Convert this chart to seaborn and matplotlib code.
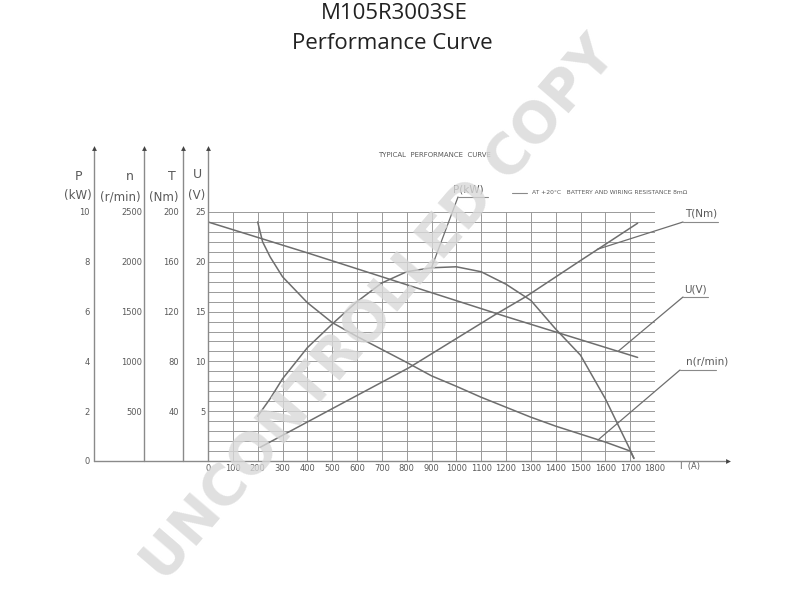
import matplotlib
matplotlib.use("Agg")
import matplotlib.pyplot as plt
import seaborn as sns
from matplotlib.ticker import MultipleLocator, FixedLocator

# ---------------- data ----------------
current_u = [0, 400, 800, 1200, 1730]
voltage_v = [24.0, 20.9, 17.7, 14.5, 10.4]

current_n = [200, 220, 250, 300, 400, 500, 600, 700, 800, 900, 1000, 1100,
             1200, 1300, 1400, 1500, 1600, 1700, 1715]
speed_rpm = [2400, 2200, 2050, 1850, 1590, 1390, 1250, 1120, 990, 855, 750, 640,
             540, 440, 350, 270, 190, 100, 30]

current_p = [200, 250, 300, 400, 500, 600, 700, 800, 900, 1000, 1100, 1200,
             1300, 1400, 1500, 1600, 1700, 1715]
power_kw = [1.8, 2.5, 3.3, 4.55, 5.5, 6.4, 7.15, 7.6, 7.76, 7.8, 7.6, 7.1,
            6.45, 5.3, 4.25, 2.5, 0.45, 0.1]

current_t = [210, 500, 810, 1160, 1280, 1500, 1600, 1730]
torque_nm = [11, 42, 75, 118, 132, 161, 174, 191]

current_ticks = list(range(0, 1900, 100))
p_ticks = [0, 2, 4, 6, 8, 10]
n_ticks = [500, 1000, 1500, 2000, 2500]
t_ticks = [40, 80, 120, 160, 200]
u_ticks = [5, 10, 15, 20, 25]

# ---------------- style ----------------
sns.set_theme(style="white")
plt.rcParams["font.family"] = ["DejaVu Sans"]

W, H = 800, 600
TXT = "#5a5a5a"
CURVE = "#6e6e6e"
GRIDC = "#9a9a9a"
AXC = "#8a8a8a"

fig = plt.figure(figsize=(8, 6), dpi=100)
fig.patch.set_facecolor("white")

L, R, T, B = 208, 655, 212, 461
ax = fig.add_axes([L / W, 1 - B / H, (R - L) / W, (B - T) / H])
ax.set_facecolor("none")

# main (U / current) axis
sns.lineplot(x=current_u, y=voltage_v, ax=ax, color=CURVE, lw=1.1)
ax.set_xlim(0, 1800)
ax.set_ylim(0, 25)
ax.set_xticks(current_ticks)
ax.set_xticklabels([str(v) for v in current_ticks])
ax.yaxis.set_major_locator(FixedLocator(u_ticks))
ax.yaxis.set_minor_locator(MultipleLocator(1))
ax.set_yticklabels([str(v) for v in u_ticks])
ax.grid(True, which="both", color=GRIDC, lw=0.7)
ax.tick_params(axis="both", which="both", length=0, labelsize=6, colors=TXT)
ax.tick_params(axis="x", pad=2)
ax.tick_params(axis="y", pad=1.5)
for s in ax.spines.values():
    s.set_visible(False)
ax.set_xlabel("")
ax.set_ylabel("")


def make_twin(outward):
    t = ax.twinx()
    t.yaxis.tick_left()
    t.spines["left"].set_position(("outward", outward))
    for s in t.spines.values():
        s.set_visible(False)
    t.grid(False)
    return t


def finish_twin(t, lim, ticks, pad):
    t.set_ylim(*lim)
    t.set_yticks(ticks)
    t.set_yticklabels([str(v) for v in ticks])
    t.tick_params(axis="y", length=0, pad=pad, labelsize=6, colors=TXT)
    t.set_ylabel("")
    t.grid(False)


axP = make_twin(114 * 0.72)
axN = make_twin(64 * 0.72)
axT = make_twin(25 * 0.72)

sns.lineplot(x=current_p, y=power_kw, ax=axP, color=CURVE, lw=1.1)
sns.lineplot(x=current_n, y=speed_rpm, ax=axN, color=CURVE, lw=1.1)
sns.lineplot(x=current_t, y=torque_nm, ax=axT, color=CURVE, lw=1.1)
finish_twin(axP, (0, 10), p_ticks, 3)
finish_twin(axN, (0, 2500), n_ticks, 1.5)
finish_twin(axT, (0, 200), t_ticks, 3)
ax.set_xlim(0, 1800)

# ---------------- overlay for axis lines & annotations (pixel coords) ----------------
ov = fig.add_axes([0, 0, 1, 1])
ov.set_xlim(0, W)
ov.set_ylim(H, 0)
ov.axis("off")

for x in [94, 144, 183, 208]:
    ov.plot([x, x], [B, 150], color=AXC, lw=1.0)
    ov.plot([x], [148], marker="^", ms=3.5, color="#444444", mew=0)
ov.plot([94, 725], [B, B], color=AXC, lw=1.0)
ov.plot([728], [B], marker=">", ms=3.5, color="#444444", mew=0)

lab = dict(ha="center", va="center", color=TXT)
ov.text(78, 176, "P", fontsize=9, **lab)
ov.text(78, 196, "(kW)", fontsize=8.5, **lab)
ov.text(130, 176, "n", fontsize=9, **lab)
ov.text(120, 197, "(r/min)", fontsize=8.5, **lab)
ov.text(172, 176, "T", fontsize=9, **lab)
ov.text(164, 197, "(Nm)", fontsize=8.5, **lab)
ov.text(197, 174, "U", fontsize=9, **lab)
ov.text(197, 195, "(V)", fontsize=8.5, **lab)

ov.text(435, 155, "TYPICAL  PERFORMANCE  CURVE", fontsize=5, **lab)
ov.plot([512, 527], [193, 193], color=AXC, lw=0.8)
ov.text(532, 193, "AT +20°C   BATTERY AND WIRING RESISTANCE 8mΩ",
        ha="left", va="center", fontsize=4.3, color=TXT)
ov.text(468, 189, "P(kW)", fontsize=7.5, **lab)
ov.text(701, 213, "T(Nm)", fontsize=7.5, **lab)
ov.text(695, 289, "U(V)", fontsize=7.5, **lab)
ov.text(707, 362, "n(r/min)", fontsize=7.5, **lab)
ov.text(690, 467, "I  (A)", fontsize=6, **lab)

# underlines of leader labels
ov.plot([458, 488], [197, 197], color=AXC, lw=0.8)
ov.plot([683, 718], [222, 222], color=AXC, lw=0.8)
ov.plot([683, 708], [297, 297], color=AXC, lw=0.8)
ov.plot([680, 716], [370, 370], color=AXC, lw=0.8)

lead = dict(arrowstyle="-", color=CURVE, lw=0.9, shrinkA=0, shrinkB=0)
axP.annotate("", xy=(900, 7.76), xytext=(458, H - 197), textcoords="figure pixels", arrowprops=lead)
axT.annotate("", xy=(1567, 170), xytext=(683, H - 222), textcoords="figure pixels", arrowprops=lead)
ax.annotate("", xy=(1651, 11.0), xytext=(683, H - 297), textcoords="figure pixels", arrowprops=lead)
axN.annotate("", xy=(1570, 210), xytext=(680, H - 370), textcoords="figure pixels", arrowprops=lead)

# ---------------- titles ----------------
fig.text(0.493, 1 - 19 / H, "M105R3003SE", ha="center", va="baseline",
         fontsize=16, family=["Open Sans", "DejaVu Sans"], color="#222222")
fig.text(0.491, 1 - 49 / H, "Performance Curve", ha="center", va="baseline",
         fontsize=16, family=["Open Sans", "DejaVu Sans"], color="#222222")

# watermark
fig.text(380 / W, 1 - 310 / H, "UNCONTROLLED COPY", rotation=49.4, rotation_mode="anchor",
         ha="center", va="center", fontsize=40, fontweight="bold",
         color="#d8d8d8", alpha=0.8, zorder=10)

fig.savefig("out.png", dpi=100)
